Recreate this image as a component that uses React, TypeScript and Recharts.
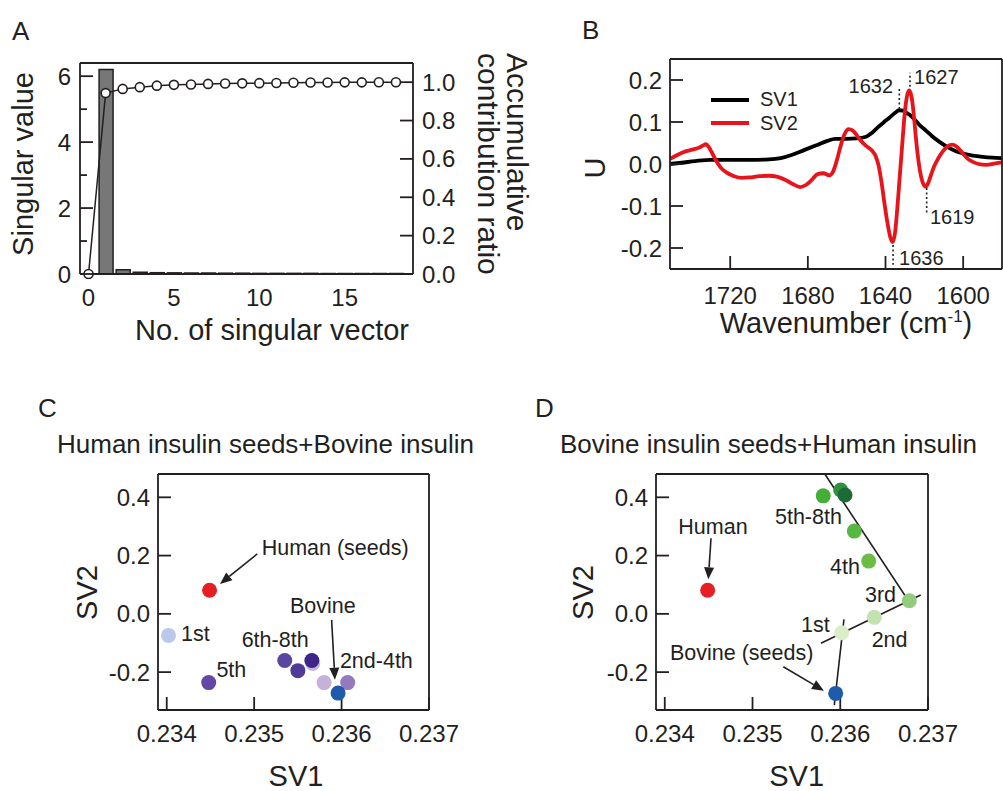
import React from 'react';
import { ComposedChart, Bar, Line, Scatter, XAxis, YAxis, ReferenceLine, Legend } from 'recharts';

const INK = '#231f20';
const FONT = '"Liberation Sans", Arial, Helvetica, sans-serif';

// ---------------- Panel A : singular values ----------------
const vectorNumbers = [0, 1, 2, 3, 4, 5, 6, 7, 8, 9, 10, 11, 12, 13, 14, 15, 16, 17, 18];
const singularValues = [null, 6.2, 0.13, 0.05, 0.04, 0.035, 0.03, 0.03, 0.025, 0.025, 0.02, 0.02, 0.02, 0.02, 0.015, 0.015, 0.015, 0.015, 0.015];
const accumulativeRatio = [0, 0.943, 0.965, 0.974, 0.982, 0.986, 0.988, 0.991, 0.993, 0.994, 0.995, 0.996, 0.997, 0.998, 0.998, 0.999, 0.999, 1.0, 1.0];
const aXTicks = [0, 5, 10, 15];
const aLeftTicks = [0, 1, 2, 3, 4, 5, 6];
const aRightTicks = [0, 0.2, 0.4, 0.6, 0.8, 1.0];

// ---------------- Panel B : singular vectors ----------------
const sv1Wavenumber = [1751, 1745, 1738, 1730, 1720, 1710, 1700, 1694, 1688, 1682, 1676, 1670, 1666, 1660, 1655, 1650, 1647, 1644, 1641, 1638, 1635, 1633, 1631, 1629, 1627, 1625, 1622, 1619, 1616, 1612, 1608, 1604, 1600, 1595, 1590, 1585, 1580];
const sv1U = [0.0, 0.003, 0.007, 0.01, 0.01, 0.01, 0.011, 0.014, 0.022, 0.033, 0.044, 0.055, 0.06, 0.06, 0.061, 0.065, 0.074, 0.087, 0.099, 0.11, 0.122, 0.128, 0.127, 0.121, 0.115, 0.106, 0.091, 0.079, 0.066, 0.052, 0.04, 0.031, 0.025, 0.02, 0.017, 0.015, 0.014];
const sv2Wavenumber = [1751, 1747, 1743, 1739, 1736, 1734, 1732.5, 1731, 1729.5, 1727.5, 1725, 1722, 1718, 1714, 1710, 1705, 1700, 1696, 1692, 1688, 1684, 1681, 1678, 1675, 1672, 1669, 1667, 1665, 1663, 1661, 1659, 1657, 1655, 1653, 1650, 1647, 1645, 1643.5, 1642, 1640.5, 1639, 1637.5, 1636.3, 1635, 1634, 1633, 1632, 1631, 1630, 1629, 1627.8, 1626.5, 1625.5, 1624.5, 1623.5, 1622.3, 1621, 1619.3, 1618, 1616.5, 1615, 1613, 1610.5, 1608, 1605.5, 1603, 1600.5, 1598, 1595, 1592, 1588, 1584, 1580];
const sv2U = [0.012, 0.022, 0.03, 0.035, 0.039, 0.044, 0.047, 0.04, 0.028, 0.01, -0.008, -0.02, -0.029, -0.033, -0.032, -0.029, -0.028, -0.03, -0.037, -0.047, -0.055, -0.05, -0.038, -0.024, -0.022, -0.027, -0.018, 0.01, 0.045, 0.072, 0.083, 0.08, 0.07, 0.057, 0.043, 0.032, 0.018, -0.005, -0.045, -0.095, -0.14, -0.175, -0.186, -0.16, -0.11, -0.05, 0.01, 0.07, 0.125, 0.16, 0.175, 0.158, 0.12, 0.07, 0.025, -0.015, -0.042, -0.054, -0.045, -0.025, -0.006, 0.012, 0.03, 0.042, 0.046, 0.04, 0.027, 0.014, 0.005, 0.0, -0.002, 0.001, 0.004];
const bXTicks = [1720, 1680, 1640, 1600];
const bYTicks = [-0.2, -0.1, 0, 0.1, 0.2];
const seriesNames = ['SV1', 'SV2'];
const seriesColors = ['#000000', '#e8141c'];

// peak annotations (wavenumber of guide, guide span, label anchor)
const peakLabels = ['1632', '1627', '1619', '1636'];
const peakGuideWn = [1632.9, 1627.4, 1618.8, 1636.1];
const peakGuideFrom = [0.131, 0.184, -0.057, -0.193];
const peakGuideTo = [0.179, 0.217, -0.117, -0.24];
const peakLabelWn = [1636.1, 1625.3, 1617.1, 1633.0];
const peakLabelU = [0.169, 0.19, -0.143, -0.24];
const peakLabelAnchor = ['end', 'start', 'start', 'start'];

// ---------------- Panel C : Human seeds + Bovine ----------------
const cSV1 = [0.23449, 0.23402, 0.23448, 0.23535, 0.2355, 0.23567, 0.23566, 0.2358, 0.23607, 0.23596];
const cSV2 = [0.081, -0.074, -0.236, -0.16, -0.195, -0.17, -0.16, -0.236, -0.236, -0.272];
const cColors = ['#e61f25', '#b8c9e9', '#6446a6', '#5a46a1', '#523a98', '#c5b5dc', '#3f2587', '#c4b2d9', '#9479bf', '#1f5aab'];
const cNoteText = ['Human (seeds)', 'Bovine', '1st', '5th', '6th-8th', '2nd-4th'];
const cNoteSV1 = [0.235086, 0.235409, 0.234163, 0.234568, 0.234857, 0.235981];
const cNoteSV2 = [0.202, 0.003, -0.0915, -0.218, -0.114, -0.1875];
const cArrowFromSV1 = [0.235035, 0.235886];
const cArrowFromSV2 = [0.2057, -0.0206];
const cArrowToSV1 = [0.234609, 0.235924];
const cArrowToSV2 = [0.1028, -0.2263];

// ---------------- Panel D : Bovine seeds + Human ----------------
const dSV1 = [0.234489, 0.235948, 0.236016, 0.236388, 0.236787, 0.236324, 0.23616, 0.235806, 0.236005, 0.236054];
const dSV2 = [0.081, -0.273, -0.065, -0.012, 0.045, 0.181, 0.284, 0.405, 0.425, 0.408];
const dColors = ['#e61f25', '#1f5aab', '#d9eec8', '#c2e2b0', '#92cc7e', '#6bbd46', '#56b843', '#44ae37', '#2f9140', '#1c6a35'];
const dNoteText = ['Human', '5th-8th', '4th', '3rd', '2nd', '1st', 'Bovine (seeds)'];
const dNoteSV1 = [0.234154, 0.235256, 0.235883, 0.236282, 0.236358, 0.235552, 0.234059];
const dNoteSV2 = [0.274, 0.3084, 0.1368, 0.0417, -0.1127, -0.0633, -0.157];
const dArrowFromSV1 = [0.234527, 0.235351];
const dArrowFromSV2 = [0.2593, -0.1814];
const dArrowToSV1 = [0.234496, 0.235814];
const dArrowToSV2 = [0.1186, -0.2638];
const dFitFromSV1 = [0.235826, 0.23578, 0.236042];
const dFitFromSV2 = [0.479, -0.101, -0.019];
const dFitToSV1 = [0.236764, 0.236917, 0.235932];
const dFitToSV2 = [0.051, 0.065, -0.313];

const svXDomain: [number, number] = [0.2339, 0.237];
const svYDomain: [number, number] = [-0.33, 0.48];
const svXTicks = [0.234, 0.235, 0.236, 0.237];
const svYTicks = [-0.2, 0, 0.2, 0.4];

// ---------------- helpers ----------------
const frame = { stroke: INK, strokeWidth: 1.8 };
const tickFont = { fontSize: 24, fill: INK };
const zeroMargin = { top: 0, right: 0, bottom: 0, left: 0 };

const aData = vectorNumbers.map((n, i) => ({ x: n, sv: singularValues[i], acc: accumulativeRatio[i] }));
const sv1Data = sv1Wavenumber.map((x, i) => ({ x, y: sv1U[i] }));
const sv2Data = sv2Wavenumber.map((x, i) => ({ x, y: sv2U[i] }));
const peakLabelData = peakLabels.map((label, i) => ({ x: peakLabelWn[i], y: peakLabelU[i], label, anchor: peakLabelAnchor[i] }));
const cPoints = cSV1.map((x, i) => ({ x, y: cSV2[i], color: cColors[i] }));
const dPoints = dSV1.map((x, i) => ({ x, y: dSV2[i], color: dColors[i] }));
const cNotes = cNoteText.map((label, i) => ({ x: cNoteSV1[i], y: cNoteSV2[i], label, anchor: 'start' }));
const dNotes = dNoteText.map((label, i) => ({ x: dNoteSV1[i], y: dNoteSV2[i], label, anchor: 'start' }));

const renderALeftTick = (p: any) => {
  const v = p.payload.value;
  const major = v % 2 === 0;
  return (
    <g>
      <line x1={p.x + 9} x2={p.x + 9 + (major ? 13 : 7)} y1={p.y} y2={p.y} stroke={INK} strokeWidth={1.8} />
      {major && (
        <text x={p.x} y={p.y} dy="0.355em" textAnchor="end" fontSize={24} fill={INK}>
          {v}
        </text>
      )}
    </g>
  );
};

const makeTextShape = (size: number) => (p: any) => (
  <text x={p.cx} y={p.cy} textAnchor={p.payload.anchor} fontSize={size} fill={INK} fontFamily={FONT}>
    {p.payload.label}
  </text>
);

const dotShape = (p: any) => <circle cx={p.cx} cy={p.cy} r={7.5} fill={p.payload.color} />;

const arrowShape = (p: any) => {
  const { x1, y1, x2, y2 } = p;
  if ([x1, y1, x2, y2].some((v) => typeof v !== 'number' || isNaN(v))) return <g />;
  const ang = Math.atan2(y2 - y1, x2 - x1);
  const L = 12;
  const W = 5;
  const bx = x2 - L * Math.cos(ang);
  const by = y2 - L * Math.sin(ang);
  const pts = `${x2},${y2} ${bx + W * Math.sin(ang)},${by - W * Math.cos(ang)} ${bx - W * Math.sin(ang)},${by + W * Math.cos(ang)}`;
  return (
    <g>
      <line x1={x1} y1={y1} x2={bx} y2={by} stroke={INK} strokeWidth={1.6} />
      <polygon points={pts} fill={INK} />
    </g>
  );
};

// ---------------- panels ----------------
function PanelA() {
  return (
    <ComposedChart width={463} height={276} data={aData} margin={zeroMargin}>
      <XAxis xAxisId="b" dataKey="x" type="number" domain={[-0.5, 19]} allowDataOverflow ticks={aXTicks} interval={0}
        tickSize={0} tickLine={false} tickMargin={15} height={50} axisLine={frame} tick={tickFont} />
      <XAxis xAxisId="t" orientation="top" type="number" domain={[-0.5, 19]} allowDataOverflow tick={false} tickLine={false}
        height={15} axisLine={frame} />
      <YAxis yAxisId="l" type="number" domain={[0, 6.4]} allowDataOverflow ticks={aLeftTicks} interval={0} width={70}
        tickSize={0} tickMargin={9} tickLine={false} tick={renderALeftTick} axisLine={frame} />
      <YAxis yAxisId="r" orientation="right" type="number" domain={[0, 1.1]} allowDataOverflow ticks={aRightTicks} interval={0}
        width={60} tickSize={-13} tickMargin={22} tickLine={frame} tick={tickFont}
        tickFormatter={(v: number) => v.toFixed(1)} axisLine={frame} />
      <Bar xAxisId="b" yAxisId="l" dataKey="sv" barSize={14} fill="#777777" stroke={INK} strokeWidth={1.5}
        isAnimationActive={false} />
      <Line xAxisId="b" yAxisId="r" dataKey="acc" type="linear" stroke={INK} strokeWidth={1.5}
        dot={{ r: 4.5, fill: '#ffffff', stroke: INK, strokeWidth: 1.6, clipDot: false }} isAnimationActive={false} />
    </ComposedChart>
  );
}

function PanelB() {
  return (
    <ComposedChart width={403} height={275} margin={zeroMargin}>
      <XAxis xAxisId="b" dataKey="x" type="number" domain={[1580, 1751]} reversed allowDataOverflow ticks={bXTicks} interval={0}
        tickSize={-13} tickMargin={31} height={50} axisLine={frame} tickLine={frame} tick={tickFont} />
      <XAxis xAxisId="t" orientation="top" type="number" domain={[1580, 1751]} reversed allowDataOverflow ticks={bXTicks} interval={0}
        tickSize={-13} tick={false} height={15} axisLine={frame} tickLine={frame} />
      <YAxis yAxisId="l" dataKey="y" type="number" domain={[-0.25, 0.25]} allowDataOverflow ticks={bYTicks} interval={0} width={70}
        tickSize={-13} tickMargin={21} axisLine={frame} tickLine={frame} tick={tickFont}
        tickFormatter={(v: number) => v.toFixed(1)} />
      <YAxis yAxisId="r" orientation="right" type="number" domain={[-0.25, 0.25]} allowDataOverflow ticks={bYTicks} interval={0}
        width={1} tickSize={-13} tick={false} axisLine={frame} tickLine={frame} />
      <Line xAxisId="b" yAxisId="l" data={sv1Data} dataKey="y" name={seriesNames[0]} type="monotone" stroke={seriesColors[0]}
        strokeWidth={3.8} dot={false} isAnimationActive={false} />
      <Line xAxisId="b" yAxisId="l" data={sv2Data} dataKey="y" name={seriesNames[1]} type="monotone" stroke={seriesColors[1]}
        strokeWidth={3.8} dot={false} isAnimationActive={false} />
      {peakLabels.map((lab, i) => (
        <ReferenceLine key={lab} xAxisId="b" yAxisId="l" ifOverflow="visible"
          segment={[{ x: peakGuideWn[i], y: peakGuideFrom[i] }, { x: peakGuideWn[i], y: peakGuideTo[i] }]}
          stroke={INK} strokeWidth={1.6} strokeDasharray="2 2.5" />
      ))}
      <Scatter xAxisId="b" yAxisId="l" data={peakLabelData} shape={makeTextShape(20)} legendType="none" isAnimationActive={false} />
      <Legend layout="vertical" align="center" verticalAlign="middle"
        wrapperStyle={{ left: 111, top: 41, width: 100, height: 50 }}
        content={() => (
          <svg width={100} height={50} style={{ display: 'block' }}>
            {seriesNames.map((n, i) => (
              <g key={n}>
                <line x1={0} x2={38} y1={15 + 23 * i} y2={15 + 23 * i} stroke={seriesColors[i]} strokeWidth={4} />
                <text x={49} y={21 + 24 * i} fontSize={20} fill={INK} fontFamily={FONT}>{n}</text>
              </g>
            ))}
          </svg>
        )} />
    </ComposedChart>
  );
}

function SVPanel(props: {
  points: any[]; notes: any[];
  arrowFromX: number[]; arrowFromY: number[]; arrowToX: number[]; arrowToY: number[];
  fitFromX?: number[]; fitFromY?: number[]; fitToX?: number[]; fitToY?: number[];
  width: number;
}) {
  const { points, notes, arrowFromX, arrowFromY, arrowToX, arrowToY, fitFromX, fitFromY, fitToX, fitToY, width } = props;
  return (
    <ComposedChart width={width} height={301} margin={zeroMargin}>
      <XAxis xAxisId="b" dataKey="x" type="number" domain={svXDomain} allowDataOverflow ticks={svXTicks} interval={0}
        tickSize={-13} tickMargin={27.7} height={50} axisLine={frame} tickLine={frame} tick={tickFont}
        tickFormatter={(v: number) => v.toFixed(3)} />
      <XAxis xAxisId="t" orientation="top" type="number" domain={svXDomain} allowDataOverflow ticks={svXTicks} interval={0}
        tickSize={-13} tick={false} height={15} axisLine={frame} tickLine={frame} />
      <YAxis yAxisId="l" dataKey="y" type="number" domain={svYDomain} allowDataOverflow ticks={svYTicks} interval={0} width={70}
        tickSize={-13} tickMargin={21} axisLine={frame} tickLine={frame} tick={tickFont}
        tickFormatter={(v: number) => v.toFixed(1)} />
      <YAxis yAxisId="r" orientation="right" type="number" domain={svYDomain} allowDataOverflow ticks={svYTicks} interval={0}
        width={45} tickSize={-13} tick={false} axisLine={frame} tickLine={frame} />
      {fitFromX && fitFromX.map((fx, i) => (
        <ReferenceLine key={'fit' + i} xAxisId="b" yAxisId="l" ifOverflow="visible"
          segment={[{ x: fx, y: fitFromY![i] }, { x: fitToX![i], y: fitToY![i] }]}
          stroke={INK} strokeWidth={1.6} />
      ))}
      <Scatter xAxisId="b" yAxisId="l" data={points} shape={dotShape} isAnimationActive={false} />
      {arrowFromX.map((ax, i) => (
        <ReferenceLine key={'arr' + i} xAxisId="b" yAxisId="l" ifOverflow="visible"
          segment={[{ x: ax, y: arrowFromY[i] }, { x: arrowToX[i], y: arrowToY[i] }]}
          stroke={INK} shape={arrowShape} />
      ))}
      <Scatter xAxisId="b" yAxisId="l" data={notes} shape={makeTextShape(21.5)} isAnimationActive={false} />
    </ComposedChart>
  );
}

export default function App() {
  return (
    <div style={{ position: 'absolute', left: 0, top: 0, width: 1003, height: 791, overflow: 'hidden', background: '#ffffff', fontFamily: FONT, color: INK }}>
      <div style={{ position: 'absolute', left: 10, top: 48 }}><PanelA /></div>
      <div style={{ position: 'absolute', left: 600, top: 44 }}><PanelB /></div>
      <div style={{ position: 'absolute', left: 88, top: 459 }}>
        <SVPanel width={386} points={cPoints} notes={cNotes}
          arrowFromX={cArrowFromSV1} arrowFromY={cArrowFromSV2} arrowToX={cArrowToSV1} arrowToY={cArrowToSV2} />
      </div>
      <div style={{ position: 'absolute', left: 586, top: 459 }}>
        <SVPanel width={387} points={dPoints} notes={dNotes}
          arrowFromX={dArrowFromSV1} arrowFromY={dArrowFromSV2} arrowToX={dArrowToSV1} arrowToY={dArrowToSV2}
          fitFromX={dFitFromSV1} fitFromY={dFitFromSV2} fitToX={dFitToSV1} fitToY={dFitToSV2} />
      </div>
      <svg width={1003} height={791} style={{ position: 'absolute', left: 0, top: 0, pointerEvents: 'none' }} fontFamily={FONT} fill={INK}>
        {/* Panel A */}
        <text x={12} y={40} fontSize={26}>A</text>
        <text transform="translate(32.5,164) rotate(-90)" textAnchor="middle" fontSize={29}>Singular value</text>
        <text x={272} y={340} textAnchor="middle" fontSize={29}>No. of singular vector</text>
        <text transform="translate(507,53) rotate(90)" textAnchor="start" fontSize={30}>Accumulative</text>
        <text transform="translate(477.5,53) rotate(90)" textAnchor="start" fontSize={30}>contribution ratio</text>
        {/* Panel B */}
        <text x={582} y={39} fontSize={26}>B</text>
        <text transform="translate(605,168) rotate(-90)" textAnchor="middle" fontSize={29}>U</text>
        <text x={846} y={333} textAnchor="middle" fontSize={29}>
          Wavenumber (cm<tspan dy={-11} fontSize={17}>-1</tspan><tspan dy={11}>)</tspan>
        </text>
        {/* Panel C */}
        <text x={38} y={417} fontSize={26}>C</text>
        <text x={57} y={453} fontSize={26}>Human insulin seeds+Bovine insulin</text>
        <text transform="translate(96.7,592.5) rotate(-90)" textAnchor="middle" fontSize={29}>SV2</text>
        <text x={296} y={786} textAnchor="middle" fontSize={29}>SV1</text>
        {/* Panel D */}
        <text x={535} y={417} fontSize={26}>D</text>
        <text x={560} y={453} fontSize={26}>Bovine insulin seeds+Human insulin</text>
        <text transform="translate(593,592.5) rotate(-90)" textAnchor="middle" fontSize={29}>SV2</text>
        <text x={796.7} y={786} textAnchor="middle" fontSize={29}>SV1</text>
      </svg>
    </div>
  );
}
